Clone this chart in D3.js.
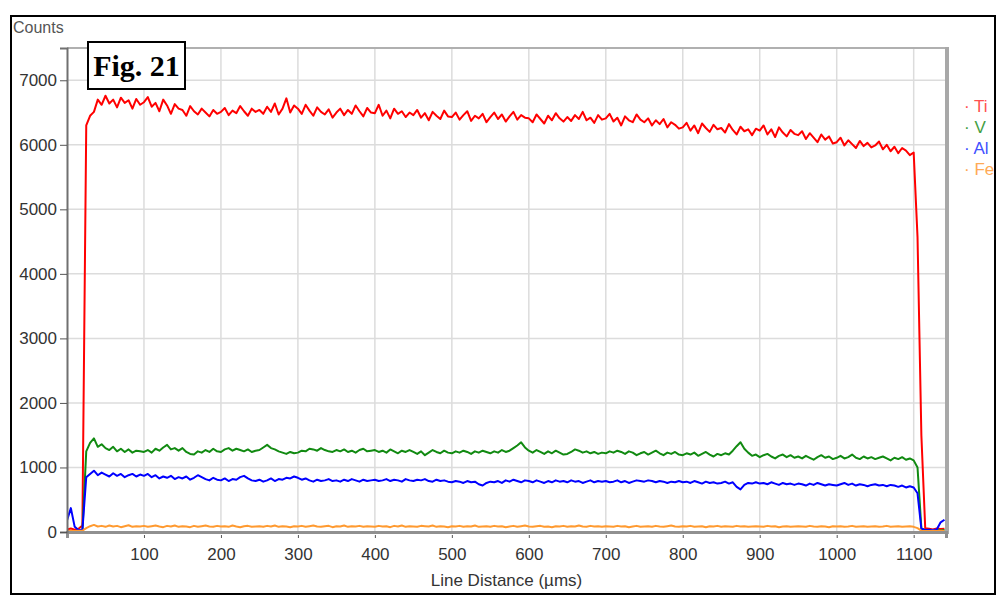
<!DOCTYPE html>
<html>
<head>
<meta charset="utf-8">
<script src="https://cdn.jsdelivr.net/npm/d3@7"></script>
<style>
  body { margin: 0; background: #fff; }
  svg { display: block; font-family: "Liberation Sans", Arial, sans-serif; }
</style>
</head>
<body>
<div id="chart"></div>
<script>
// Sample spacing along the line scan (µm)
const step = 5;

// Counts per element, one value every 5 µm from 0 to 1140 µm
const tiCounts = [
  40, 55, 35, 50, 100, 6300, 6450, 6510, 6700, 6620,
  6760, 6640, 6700, 6580, 6730, 6650, 6690, 6560, 6710, 6620,
  6660, 6740, 6590, 6650, 6520, 6700, 6610, 6480, 6630, 6560,
  6540, 6450, 6600, 6520, 6470, 6560, 6500, 6440, 6540, 6480,
  6510, 6570, 6460, 6530, 6490, 6600, 6520, 6450, 6560, 6510,
  6540, 6480, 6590, 6510, 6640, 6470, 6560, 6720, 6500, 6610,
  6560, 6480, 6620, 6530, 6450, 6580, 6510, 6470, 6550, 6420,
  6500, 6560, 6460, 6540, 6480, 6610, 6520, 6440, 6570, 6500,
  6490, 6620, 6450, 6530, 6410, 6560, 6480, 6520, 6430, 6500,
  6460, 6540, 6420, 6490, 6380, 6510, 6450, 6400, 6530, 6440,
  6430, 6500, 6390, 6460, 6520, 6370, 6450, 6410, 6480, 6350,
  6430, 6500, 6400, 6470, 6360, 6440, 6510, 6390, 6460, 6420,
  6410, 6350, 6470, 6400, 6330, 6450, 6380, 6490, 6410, 6360,
  6430, 6370, 6460, 6400, 6510, 6380, 6420, 6340, 6460, 6390,
  6410, 6480, 6360, 6420, 6300, 6440, 6380, 6350, 6470, 6390,
  6350, 6410, 6300, 6380, 6320, 6400, 6270, 6350, 6310, 6250,
  6270, 6340, 6220, 6300, 6180, 6330, 6260, 6200, 6310, 6240,
  6260, 6190, 6320, 6230, 6160, 6280, 6210, 6240, 6150, 6250,
  6220, 6300, 6160, 6240, 6120, 6270, 6190, 6130, 6230, 6170,
  6150, 6210, 6090, 6180, 6110, 6040, 6160, 6080, 6130, 6020,
  6040, 6110, 5990, 6070, 6010, 5950, 6060, 5980, 6030, 5960,
  5990, 6050, 5930, 6000, 5900, 5970, 5870, 5950, 5910, 5840,
  5880, 4570, 1500, 60, 50, 40, 55, 45, 50
];

const vCounts = [
  10, 15, 10, 12, 15, 1250, 1380, 1450, 1320, 1360,
  1300, 1270, 1320, 1250, 1290, 1240, 1280, 1230, 1260, 1250,
  1240, 1270, 1230, 1290, 1260, 1310, 1350, 1280, 1300, 1260,
  1300, 1240, 1210, 1200, 1250, 1230, 1270, 1240, 1290, 1250,
  1240, 1280, 1300, 1260, 1290, 1270, 1250, 1280, 1240, 1260,
  1270, 1310, 1350, 1300, 1280, 1250, 1230, 1210, 1240, 1220,
  1230, 1260, 1250, 1290, 1280, 1260, 1300, 1270, 1250, 1240,
  1270, 1250, 1280, 1240, 1260, 1230, 1270, 1290, 1250, 1260,
  1270, 1240, 1260, 1230, 1280, 1250, 1220, 1260, 1240, 1270,
  1240, 1210, 1250, 1190, 1230, 1270, 1240, 1220, 1260, 1230,
  1220, 1250, 1230, 1260, 1240, 1210, 1250, 1230, 1260, 1240,
  1220, 1250, 1230, 1270, 1240, 1260, 1300, 1340, 1390, 1310,
  1260, 1230, 1270, 1240, 1210, 1250, 1220, 1260, 1230, 1200,
  1210, 1240, 1280, 1260, 1230, 1250, 1220, 1240, 1210, 1230,
  1220, 1250, 1230, 1260, 1240, 1210, 1250, 1230, 1190, 1220,
  1240, 1200, 1230, 1260, 1220, 1190, 1230, 1210, 1240, 1200,
  1190, 1220, 1200, 1230, 1180, 1210, 1240, 1200, 1170, 1210,
  1190, 1220, 1200, 1260, 1330, 1390, 1290, 1230, 1180, 1200,
  1160, 1190, 1210, 1170, 1140, 1180, 1200, 1160, 1190, 1150,
  1170, 1140, 1180, 1150, 1120, 1160, 1190, 1150, 1170, 1130,
  1150, 1180, 1140, 1160, 1200, 1150, 1130, 1170, 1140, 1160,
  1130, 1150, 1170, 1140, 1110, 1150, 1130, 1160, 1120, 1140,
  1110, 1000, 60, 25, 20, 25, 30, 25, 30
];

const alCounts = [
  180, 370, 80, 30, 30, 850, 900, 950, 880, 920,
  890, 860, 910, 870, 900, 850, 880, 900, 860, 890,
  870, 900, 850, 880, 830, 860, 840, 870, 820, 850,
  830, 860, 810, 840, 880, 850, 820, 800, 840, 810,
  800, 830, 790, 820, 810, 850, 870, 830, 800, 790,
  810, 780, 800, 830, 790, 820, 810, 840, 830, 860,
  840, 810, 830, 800, 780, 810, 790, 800, 820, 790,
  800, 780, 810, 790, 820, 800, 780, 810, 790, 800,
  810, 790, 800, 820, 790, 810, 800, 780, 820, 800,
  790, 810, 800, 820, 790, 780, 810, 790, 800, 780,
  770, 790, 780, 760, 790, 770, 780, 740, 720, 760,
  780, 770, 790, 760, 800, 780, 810, 790, 770, 800,
  790, 770, 800, 780, 760, 790, 770, 800, 780, 790,
  770, 800, 780, 790, 760, 780, 800, 770, 790, 780,
  790, 770, 780, 800, 770, 790, 760, 780, 800, 790,
  780, 800, 790, 770, 790, 780, 760, 780, 770, 790,
  770, 780, 760, 790, 770, 750, 780, 760, 770, 750,
  760, 780, 750, 770, 700, 660, 730, 760, 750, 770,
  750, 760, 740, 770, 750, 730, 760, 740, 750, 730,
  750, 740, 720, 750, 730, 760, 740, 720, 740, 730,
  720, 740, 760, 730, 750, 720, 740, 730, 710, 730,
  740, 720, 730, 710, 730, 720, 700, 720, 690, 710,
  690, 600, 50, 30, 35, 30, 40, 150, 190
];

const feCounts = [
  15, 20, 15, 18, 20, 60, 90, 110, 85, 95,
  80, 100, 85, 95, 75, 90, 105, 80, 90, 85,
  95, 80, 90, 100, 85, 75, 95, 85, 100, 80,
  90, 85, 75, 95, 80, 90, 100, 85, 80, 95,
  85, 90, 80, 100, 85, 75, 90, 95, 80, 85,
  90, 80, 95, 85, 100, 80, 90, 85, 75, 90,
  85, 95, 80, 90, 100, 85, 80, 90, 95, 75,
  90, 85, 100, 80, 90, 85, 95, 80, 90, 85,
  80, 95, 85, 90, 75, 95, 85, 100, 80, 90,
  85, 80, 95, 90, 85, 100, 80, 90, 85, 75,
  90, 85, 95, 80, 90, 85, 100, 80, 85, 90,
  80, 95, 85, 90, 75, 85, 95, 80, 90, 100,
  85, 80, 90, 95, 80, 85, 75, 90, 85, 95,
  80, 90, 85, 100, 85, 80, 95, 85, 90, 80,
  90, 85, 80, 95, 85, 90, 75, 85, 95, 80,
  85, 90, 80, 95, 85, 80, 90, 100, 85, 80,
  90, 85, 95, 80, 85, 90, 75, 90, 85, 95,
  80, 90, 85, 80, 95, 85, 90, 80, 85, 90,
  85, 80, 95, 85, 90, 75, 85, 90, 80, 85,
  90, 85, 80, 95, 85, 80, 90, 85, 75, 90,
  85, 90, 80, 85, 95, 80, 85, 90, 80, 85,
  90, 80, 85, 95, 80, 85, 90, 80, 85, 90,
  80, 60, 20, 15, 15, 18, 15, 20, 15
];

const seriesNames = ['Ti', 'V', 'Al', 'Fe'];
const seriesColors = ['#ff0000', '#118a11', '#0000ff', '#ff9a30'];
const legendColors = ['#ff5050', '#44a044', '#4050ff', '#ffaa55'];
const xTicks = [100, 200, 300, 400, 500, 600, 700, 800, 900, 1000, 1100];
const yTicks = [0, 1000, 2000, 3000, 4000, 5000, 6000, 7000];

const width = 1001;
const height = 596;
const plot = { left: 67, right: 946, top: 48, bottom: 532 };

const svg = d3.select('#chart')
    .append('svg')
    .attr('width', width)
    .attr('height', height);

const xScale = d3.scaleLinear().domain([0, 1142]).range([plot.left, plot.right]);
const yScale = d3.scaleLinear().domain([0, 7500]).range([plot.bottom, plot.top]);

// Gridlines
svg.append('g')
    .selectAll('line')
    .data(xTicks)
    .join('line')
    .attr('x1', d => xScale(d)).attr('x2', d => xScale(d))
    .attr('y1', plot.top).attr('y2', plot.bottom)
    .attr('stroke', '#dcdcdc').attr('stroke-width', 1.5);

svg.append('g')
    .selectAll('line')
    .data(yTicks.filter(d => d > 0))
    .join('line')
    .attr('x1', plot.left).attr('x2', plot.right)
    .attr('y1', d => yScale(d)).attr('y2', d => yScale(d))
    .attr('stroke', '#dcdcdc').attr('stroke-width', 1.5);

// Plot frame: top and right edges
svg.append('line')
    .attr('x1', plot.left).attr('x2', plot.right)
    .attr('y1', plot.top).attr('y2', plot.top)
    .attr('stroke', '#b0b0b0').attr('stroke-width', 2);
svg.append('line')
    .attr('x1', plot.right + 1).attr('x2', plot.right + 1)
    .attr('y1', plot.top - 1).attr('y2', plot.bottom + 2)
    .attr('stroke', '#a8a8a8').attr('stroke-width', 4);

// Series lines
svg.append('clipPath').attr('id', 'plot-clip')
    .append('rect')
    .attr('x', plot.left).attr('y', plot.top)
    .attr('width', plot.right - plot.left).attr('height', plot.bottom - plot.top);

const line = d3.line()
    .x((d, i) => xScale(i * step))
    .y(d => yScale(d));

const allSeries = [tiCounts, vCounts, alCounts, feCounts];
svg.append('g')
    .attr('clip-path', 'url(#plot-clip)')
    .selectAll('path')
    .data(allSeries)
    .join('path')
    .attr('d', d => line(d))
    .attr('fill', 'none')
    .attr('stroke', (d, i) => seriesColors[i])
    .attr('stroke-width', 2)
    .attr('stroke-linejoin', 'round');

// Axes
const xAxis = svg.append('g')
    .attr('transform', `translate(0,${plot.bottom})`)
    .call(d3.axisBottom(xScale).tickValues(xTicks).tickFormat(d3.format('d')).tickSize(6).tickPadding(10));
xAxis.select('.domain').attr('stroke', '#909090').attr('stroke-width', 3);
xAxis.selectAll('.tick line').attr('stroke', '#555').attr('y1', 3);
xAxis.selectAll('text').attr('fill', '#333').style('font-size', '17px');

const yAxis = svg.append('g')
    .attr('transform', `translate(${plot.left},0)`)
    .call(d3.axisLeft(yScale).tickValues(yTicks).tickFormat(d3.format('d')).tickSize(7).tickPadding(3));
yAxis.select('.domain').attr('stroke', '#707070').attr('stroke-width', 2);
yAxis.selectAll('.tick line').attr('stroke', '#555');
yAxis.selectAll('text').attr('fill', '#333').style('font-size', '17px');

// Axis titles
svg.append('text')
    .attr('x', (plot.left + plot.right) / 2)
    .attr('y', 586)
    .attr('text-anchor', 'middle')
    .attr('fill', '#333')
    .style('font-size', '17px')
    .text('Line Distance (µms)');

svg.append('text')
    .attr('x', 13)
    .attr('y', 33)
    .attr('fill', '#555')
    .style('font-size', '16px')
    .text('Counts');

// Legend, clipped by the outer frame
svg.append('clipPath').attr('id', 'legend-clip')
    .append('rect').attr('x', 950).attr('y', 60).attr('width', 45).attr('height', 140);

const legend = svg.append('g').attr('clip-path', 'url(#legend-clip)');
legend.selectAll('text')
    .data(seriesNames)
    .join('text')
    .attr('x', 964)
    .attr('y', (d, i) => 112 + i * 21)
    .attr('fill', (d, i) => legendColors[i])
    .style('font-size', '17px')
    .text(d => '· ' + d);

// Figure label box
svg.append('rect')
    .attr('x', 88).attr('y', 42).attr('width', 97).attr('height', 47)
    .attr('fill', '#fff').attr('stroke', '#000').attr('stroke-width', 2);
svg.append('text')
    .attr('x', 136.5).attr('y', 76)
    .attr('text-anchor', 'middle')
    .style('font-family', '"Liberation Serif", "Times New Roman", serif')
    .style('font-weight', 'bold')
    .style('font-size', '30px')
    .text('Fig. 21');

// Outer frame
svg.append('rect')
    .attr('x', 11).attr('y', 16).attr('width', 984).attr('height', 578)
    .attr('fill', 'none').attr('stroke', '#000').attr('stroke-width', 2);
</script>
</body>
</html>
